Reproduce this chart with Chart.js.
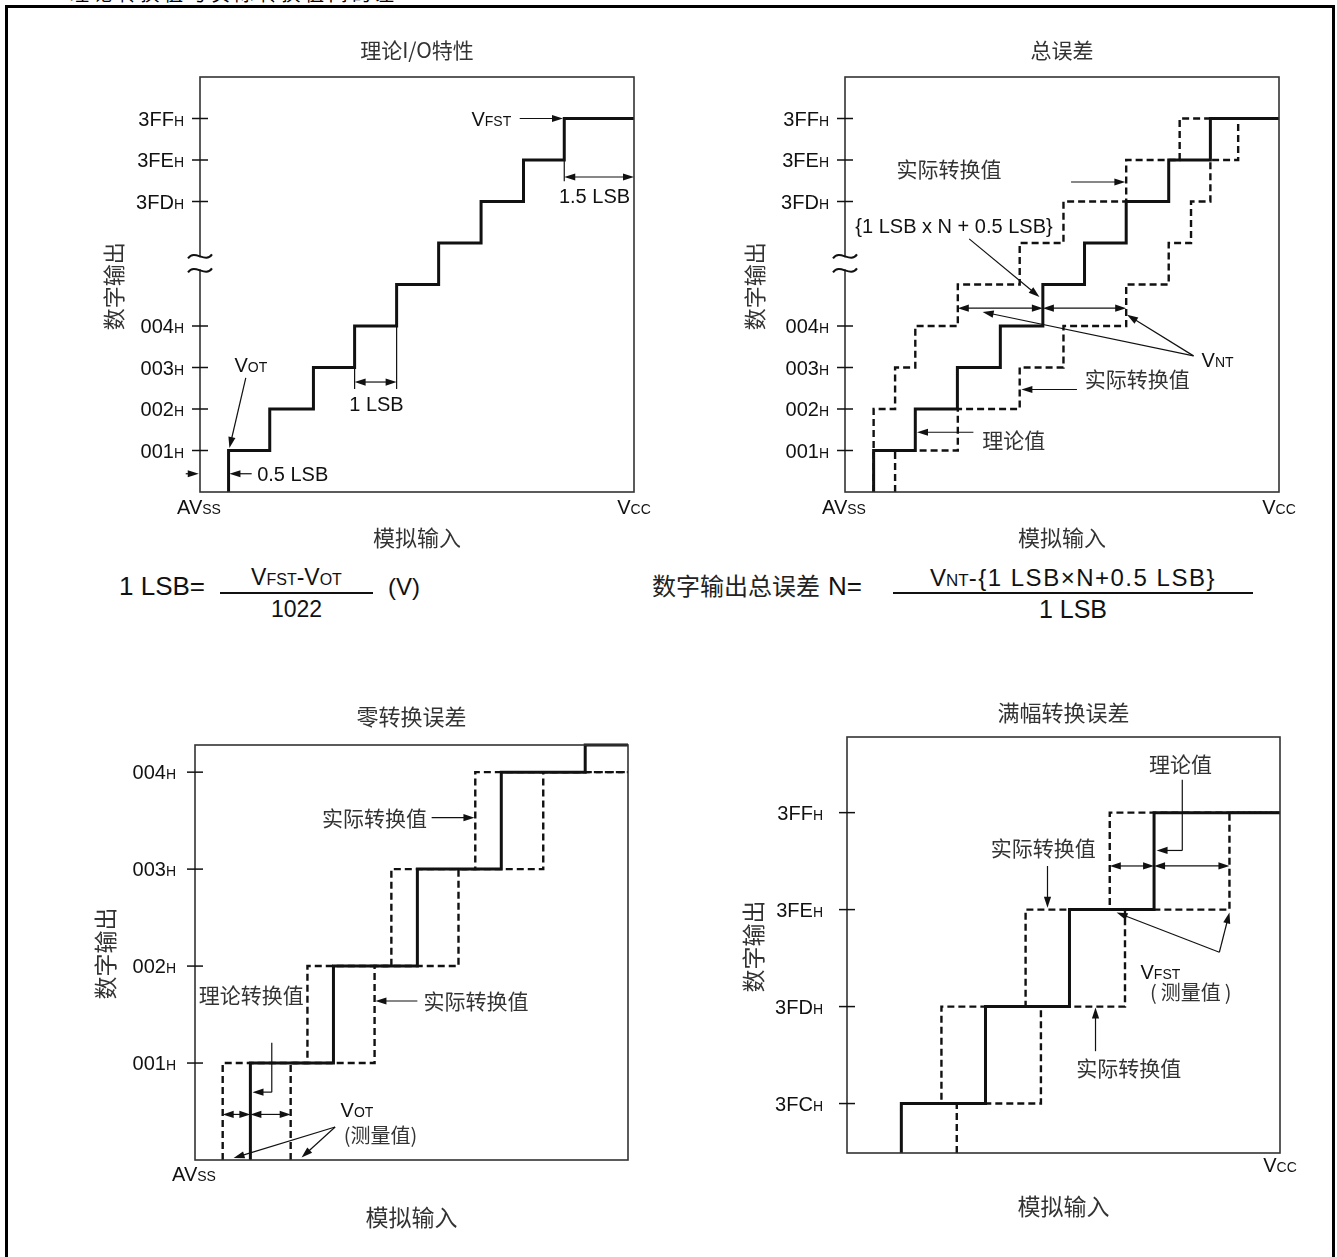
<!DOCTYPE html>
<html><head><meta charset="utf-8">
<script src="https://cdn.jsdelivr.net/npm/chart.js@4.4.0/dist/chart.umd.min.js"></script>
<style>
html,body{margin:0;padding:0;background:#fff;}
body{width:1337px;height:1257px;overflow:hidden;position:relative;}
#frame{position:absolute;left:5px;top:5px;width:1330px;height:1300px;border:3px solid #000;box-sizing:border-box;}
canvas{position:absolute;}
.t{position:absolute;white-space:nowrap;font-family:"Liberation Sans",Arial,sans-serif;color:#111;line-height:1;}
.cjk{font-family:"Noto Sans CJK SC","Noto Sans CJK JP",sans-serif;color:#333;}
.bar{position:absolute;height:2px;background:#111;}
</style></head><body>
<div class="t cjk" style="left:70px;top:-17px;font-size:19px;letter-spacing:4.5px;color:#000">理论转换值与实际转换值间的差</div>
<div id="frame"></div>

<canvas id="cA" width="570" height="530" style="left:90px;top:30px;width:570px;height:530px"></canvas>
<canvas id="cB" width="570" height="530" style="left:735px;top:30px;width:570px;height:530px"></canvas>
<canvas id="cC" width="570" height="545" style="left:85px;top:695px;width:570px;height:545px"></canvas>
<canvas id="cD" width="570" height="550" style="left:737px;top:687px;width:570px;height:550px"></canvas>

<!-- formulas -->
<div class="t" style="left:119px;top:573px;font-size:26px">1 LSB=</div>
<div class="t" style="left:220px;width:153px;text-align:center;top:566px;font-size:23px">V<span style="font-size:16px">FST</span>-V<span style="font-size:16px">OT</span></div>
<div class="bar" style="left:220px;top:592px;width:153px"></div>
<div class="t" style="left:220px;width:153px;text-align:center;top:598px;font-size:23px">1022</div>
<div class="t" style="left:388px;top:575px;font-size:24px">(V)</div>

<div class="t cjk" style="left:652px;top:573px;font-size:24px;line-height:24px;color:#222">数字输出总误差</div>
<div class="t" style="left:828px;top:573px;font-size:26px">N=</div>
<div class="t" style="left:893px;width:360px;text-align:center;top:566px;font-size:24px">V<span style="font-size:17px">NT</span><span style="letter-spacing:1.5px">-{1 LSB×N+0.5 LSB}</span></div>
<div class="bar" style="left:893px;top:592px;width:360px"></div>
<div class="t" style="left:893px;width:360px;text-align:center;top:597px;font-size:25px">1 LSB</div>

<script>
// ================= DATA =================
// Panel A: 理论I/O特性 (x in LSB units from AVss, y in output-code steps)
const aTickLevels = [1, 2, 3, 4, 7, 8, 9];
const aTickLabels = ['001', '002', '003', '004', '3FD', '3FE', '3FF'];
const aIdealStepX = [0.68, 1.66, 2.70, 3.68, 4.68, 5.68, 6.69, 7.70, 8.67];
const aStepLevel = [1, 2, 3, 4, 5, 6, 7, 8, 9];
const aXMax = 10.33;
const aYMax = 10;

// Panel B: 总误差
const bTickLevels = [1, 2, 3, 4, 7, 8, 9];
const bTickLabels = ['001', '002', '003', '004', '3FD', '3FE', '3FF'];
const bIdealStepX = [0.68, 1.67, 2.67, 3.69, 4.70, 5.69, 6.68, 7.69, 8.68];
const bEarlyStepX = [0.68, 0.68, 1.19, 1.67, 2.68, 4.15, 5.19, 6.68, 7.95];
const bLateStepX  = [1.19, 2.68, 4.15, 5.19, 6.68, 7.69, 8.22, 8.68, 9.34];
const bStepLevel = [1, 2, 3, 4, 5, 6, 7, 8, 9];
const bXMax = 10.31;
const bYMax = 10;

// Panel C: 零转换误差
const cTickLevels = [1, 2, 3, 4];
const cTickLabels = ['001', '002', '003', '004'];
const cIdealStepX = [0.66, 1.65, 2.65, 3.65, 4.65];
const cIdealStepLevel = [1, 2, 3, 4, 4.28];
const cEarlyStepX = [0.33, 1.34, 2.34, 3.34];
const cLateStepX  = [1.14, 2.14, 3.14, 4.15];
const cActualStepLevel = [1, 2, 3, 4];
const cXMax = 5.16;
const cYMax = 4.28;

// Panel D: 满幅转换误差 (3FC = 0)
const dTickLevels = [0, 1, 2, 3];
const dTickLabels = ['3FC', '3FD', '3FE', '3FF'];
const dIdealStepX = [0.645, 1.644, 2.641, 3.645];
const dEarlyStepX = [0.645, 1.121, 2.12, 3.119];
const dLateStepX  = [1.303, 2.302, 3.30, 4.54];
const dStepLevel = [0, 1, 2, 3];
const dXMax = 5.14;
const dYMin = -0.51;
const dYMax = 3.78;

// ================= HELPERS =================
const LATIN = '"Liberation Sans", Arial, sans-serif';
const CJK = '"Noto Sans CJK SC", "Noto Sans CJK JP", sans-serif';
const INK = '#111';

function stairs(startLevel, stepX, stepLevel, xEnd) {
  const pts = [{x: stepX[0], y: startLevel}];
  stepX.forEach((x, i) => pts.push({x: x, y: stepLevel[i]}));
  pts.push({x: xEnd, y: stepLevel[stepLevel.length - 1]});
  return pts;
}

function tools(chart) {
  const ctx = chart.ctx, a = chart.chartArea;
  const X = v => chart.scales.x.getPixelForValue(v);
  const Y = v => chart.scales.y.getPixelForValue(v);
  const T = {ctx, a, X, Y};
  T.seg = (x1, y1, x2, y2, w = 1.2) => {
    ctx.save(); ctx.strokeStyle = INK; ctx.lineWidth = w;
    ctx.beginPath(); ctx.moveTo(x1, y1); ctx.lineTo(x2, y2); ctx.stroke(); ctx.restore();
  };
  const L = 11, W = 3.6;
  const head = (px, py, fx, fy) => {
    const g = Math.atan2(py - fy, px - fx), c = Math.cos(g), s = Math.sin(g);
    ctx.beginPath(); ctx.moveTo(px, py);
    ctx.lineTo(px - L * c + W * s, py - L * s - W * c);
    ctx.lineTo(px - L * c - W * s, py - L * s + W * c);
    ctx.closePath(); ctx.fill();
  };
  T.arrow = (x1, y1, x2, y2, both) => {
    const d = Math.hypot(x2 - x1, y2 - y1), ux = (x2 - x1) / d, uy = (y2 - y1) / d;
    const sx = both ? x1 + ux * (L - 2) : x1, sy = both ? y1 + uy * (L - 2) : y1;
    ctx.save(); ctx.strokeStyle = INK; ctx.fillStyle = INK; ctx.lineWidth = 1.2;
    ctx.beginPath(); ctx.moveTo(sx, sy); ctx.lineTo(x2 - ux * (L - 2), y2 - uy * (L - 2)); ctx.stroke();
    head(x2, y2, x1, y1);
    if (both) head(x1, y1, x2, y2);
    ctx.restore();
  };
  T.sub = (parts, px, py, align = 'center') => {
    ctx.save(); ctx.fillStyle = INK; ctx.textBaseline = 'alphabetic'; ctx.textAlign = 'left';
    let w = 0;
    parts.forEach(([s, z]) => { ctx.font = z + 'px ' + LATIN; w += ctx.measureText(s).width; });
    let x = align === 'center' ? px - w / 2 : (align === 'right' ? px - w : px);
    const base = py + 0.716 * parts[0][1] / 2;
    parts.forEach(([s, z]) => { ctx.font = z + 'px ' + LATIN; ctx.fillText(s, x, base); x += ctx.measureText(s).width; });
    ctx.restore();
  };
  T.cjk = (s, px, py, size = 21, align = 'center') => {
    ctx.save(); ctx.font = size + 'px ' + CJK; ctx.fillStyle = '#333';
    ctx.textAlign = align; ctx.textBaseline = 'middle'; ctx.fillText(s, px, py); ctx.restore();
  };
  T.paren = (s, px, py, gap, size = 21) => {
    ctx.save(); ctx.font = size + 'px ' + CJK; ctx.fillStyle = '#333'; ctx.textBaseline = 'middle';
    const w = ctx.measureText(s).width;
    ctx.textAlign = 'center'; ctx.fillText(s, px, py);
    ctx.textAlign = 'right'; ctx.fillText('(', px - w / 2 - gap, py);
    ctx.textAlign = 'left'; ctx.fillText(')', px + w / 2 + gap, py);
    ctx.restore();
  };
  T.ytitle = (s, px, py, size = 22) => {
    ctx.save(); ctx.translate(px, py); ctx.rotate(-Math.PI / 2); T.cjk(s, 0, 0, size); ctx.restore();
  };
  T.box = () => {
    ctx.save(); ctx.strokeStyle = '#333'; ctx.lineWidth = 1.6;
    ctx.strokeRect(a.left, a.top, a.right - a.left, a.bottom - a.top); ctx.restore();
  };
  T.ticks = (levels, labels, gap) => {
    levels.forEach((lv, i) => {
      const y = Y(lv);
      T.seg(a.left - 8, y, a.left + 8, y, 1.5);
      T.sub([[labels[i], 20], ['H', 14]], a.left - gap, y, 'right');
    });
  };
  T.brk = lv => {
    const x = a.left, y = Y(lv);
    ctx.save(); ctx.fillStyle = '#fff'; ctx.fillRect(x - 3, y - 6, 6, 12);
    ctx.strokeStyle = INK; ctx.lineWidth = 2;
    [-7, 7].forEach(d => {
      ctx.beginPath(); ctx.moveTo(x - 12, y + d + 2);
      ctx.bezierCurveTo(x - 5, y + d - 8, x + 5, y + d + 8, x + 12, y + d - 2); ctx.stroke();
    });
    ctx.restore();
  };
  T.avss = dy => T.sub([['AV', 20], ['SS', 14]], a.left - 1, a.bottom + dy, 'center');
  T.vcc = dy => T.sub([['V', 20], ['CC', 14]], a.right, a.bottom + dy, 'center');
  T.cx = (a.left + a.right) / 2;
  return T;
}

function makeChart(id, cfg) {
  const cv = document.getElementById(id);
  return new Chart(cv, {
    type: 'scatter',
    data: {
      datasets: cfg.series.map(s => ({
        data: s.points, showLine: true, stepped: true,
        borderColor: INK, borderWidth: s.dashed ? 2.4 : 3,
        borderDash: s.dashed ? [7, 4] : [],
        borderCapStyle: 'butt', borderJoinStyle: 'miter',
        pointRadius: 0, pointHoverRadius: 0, fill: false, clip: 4
      }))
    },
    options: {
      responsive: false, animation: false, devicePixelRatio: 1, events: [],
      layout: {padding: cfg.padding},
      scales: {
        x: {type: 'linear', display: false, min: 0, max: cfg.xMax},
        y: {type: 'linear', display: false, min: cfg.yMin, max: cfg.yMax}
      },
      plugins: {legend: {display: false}, tooltip: {enabled: false}, title: {display: false}}
    },
    plugins: [{id: 'anno' + id, afterDraw: c => cfg.draw(tools(c))}]
  });
}

// ================= PANEL A =================
makeChart('cA', {
  padding: {left: 110, top: 47, right: 26, bottom: 68},
  xMax: aXMax, yMin: 0, yMax: aYMax,
  series: [{points: stairs(0, aIdealStepX, aStepLevel, aXMax)}],
  draw: T => {
    const {X, Y, a} = T;
    T.box();
    T.ticks(aTickLevels, aTickLabels, 16);
    T.brk(5.51);
    T.avss(15); T.vcc(15);
    T.cjk('理论I/O特性', T.cx, a.top - 27, 21);
    T.cjk('模拟输入', T.cx, a.bottom + 46, 22);
    T.ytitle('数字输出', a.left - 86, Y(4.96));
    // VFST
    T.sub([['V', 20], ['FST', 14]], X(6.46), Y(9), 'left');
    T.arrow(X(7.61), Y(9), X(8.64), Y(9));
    // 1.5 LSB
    T.seg(X(8.67), Y(8), X(8.67), Y(7.49));
    T.arrow(X(8.67), Y(7.59), X(aXMax), Y(7.59), true);
    T.sub([['1.5 LSB', 20]], X(9.39), Y(7.13));
    // 1 LSB
    T.seg(X(3.68), Y(3), X(3.68), Y(2.48));
    T.seg(X(4.68), Y(4), X(4.68), Y(2.48));
    T.arrow(X(3.68), Y(2.65), X(4.68), Y(2.65), true);
    T.sub([['1 LSB', 20]], X(4.2), Y(2.12));
    // VOT
    T.sub([['V', 20], ['OT', 14]], X(1.21), Y(3.06));
    T.arrow(X(1.09), Y(2.75), X(0.70), Y(1.06));
    // 0.5 LSB
    T.arrow(X(-0.34), Y(0.44), X(-0.03), Y(0.44));
    T.arrow(X(1.23), Y(0.44), X(0.70), Y(0.44));
    T.sub([['0.5 LSB', 20]], X(1.36), Y(0.44), 'left');
  }
});

// ================= PANEL B =================
makeChart('cB', {
  padding: {left: 110, top: 47, right: 26, bottom: 68},
  xMax: bXMax, yMin: 0, yMax: bYMax,
  series: [
    {points: stairs(0, bIdealStepX, bStepLevel, bXMax)},
    {points: stairs(0, bEarlyStepX, bStepLevel, bXMax), dashed: true},
    {points: stairs(0, bLateStepX, bStepLevel, bXMax), dashed: true}
  ],
  draw: T => {
    const {X, Y, a} = T;
    T.box();
    T.ticks(bTickLevels, bTickLabels, 16);
    T.brk(5.51);
    T.avss(15); T.vcc(15);
    T.cjk('总误差', T.cx, a.top - 27, 21);
    T.cjk('模拟输入', T.cx, a.bottom + 46, 22);
    T.ytitle('数字输出', a.left - 90, Y(4.96));
    T.cjk('实际转换值', X(2.47), Y(7.78));
    T.arrow(X(5.37), Y(7.47), X(6.66), Y(7.47));
    T.sub([['{1 LSB x N + 0.5 LSB}', 20]], X(2.59), Y(6.41));
    T.arrow(X(2.95), Y(6.10), X(4.62), Y(4.70));
    T.arrow(X(2.68), Y(4.43), X(4.70), Y(4.43), true);
    T.arrow(X(4.70), Y(4.43), X(6.68), Y(4.43), true);
    T.sub([['V', 20], ['NT', 14]], X(8.85), Y(3.18));
    T.arrow(X(8.28), Y(3.28), X(3.27), Y(4.34));
    T.arrow(X(8.28), Y(3.28), X(6.70), Y(4.27));
    T.cjk('实际转换值', X(6.94), Y(2.73));
    T.arrow(X(5.51), Y(2.47), X(4.19), Y(2.47));
    T.cjk('理论值', X(4.01), Y(1.26));
    T.arrow(X(3.05), Y(1.44), X(1.71), Y(1.44));
  }
});

// ================= PANEL C =================
makeChart('cC', {
  padding: {left: 110, top: 50, right: 27, bottom: 80},
  xMax: cXMax, yMin: 0, yMax: cYMax,
  series: [
    {points: stairs(0, cIdealStepX, cIdealStepLevel, cXMax)},
    {points: stairs(0, cEarlyStepX, cActualStepLevel, cXMax), dashed: true},
    {points: stairs(0, cLateStepX, cActualStepLevel, cXMax), dashed: true}
  ],
  draw: T => {
    const {X, Y, a} = T;
    T.box();
    T.ticks(cTickLevels, cTickLabels, 19);
    T.avss(14);
    T.cjk('零转换误差', T.cx, a.top - 28, 22);
    T.cjk('模拟输入', T.cx, a.bottom + 57, 23);
    T.ytitle('数字输出', a.left - 90, Y(2.13), 23);
    T.cjk('实际转换值', X(2.14), Y(3.53));
    T.arrow(X(2.82), Y(3.53), X(3.33), Y(3.53));
    T.cjk('理论转换值', X(0.67), Y(1.70));
    T.seg(X(0.915), Y(1.21), X(0.915), Y(0.70));
    T.arrow(X(0.915), Y(0.70), X(0.685), Y(0.70));
    T.arrow(X(2.65), Y(1.64), X(2.15), Y(1.64));
    T.cjk('实际转换值', X(3.35), Y(1.64));
    T.arrow(X(0.33), Y(0.47), X(0.66), Y(0.47), true);
    T.arrow(X(0.66), Y(0.47), X(1.14), Y(0.47), true);
    T.sub([['V', 20], ['OT', 14]], X(1.93), Y(0.52));
    T.paren('测量值', X(2.21), Y(0.25), 0, 20);
    T.arrow(X(1.67), Y(0.34), X(0.46), Y(0.02));
    T.arrow(X(1.67), Y(0.34), X(1.27), Y(0.025));
  }
});

// ================= PANEL D =================
makeChart('cD', {
  padding: {left: 110, top: 50, right: 27, bottom: 84},
  xMax: dXMax, yMin: dYMin, yMax: dYMax,
  series: [
    {points: stairs(dYMin, dIdealStepX, dStepLevel, dXMax)},
    {points: stairs(0, dEarlyStepX, dStepLevel, dXMax), dashed: true},
    {points: stairs(dYMin, dLateStepX, dStepLevel, dXMax), dashed: true}
  ],
  draw: T => {
    const {X, Y, a} = T;
    T.box();
    T.ticks(dTickLevels, dTickLabels, 24);
    T.vcc(12);
    T.cjk('满幅转换误差', T.cx, a.top - 24, 22);
    T.cjk('模拟输入', T.cx, a.bottom + 53, 23);
    T.ytitle('数字输出', a.left - 94, Y(1.62), 23);
    T.cjk('理论值', X(3.96), Y(3.50));
    T.seg(X(3.98), Y(3.34), X(3.98), Y(2.61));
    T.arrow(X(3.98), Y(2.61), X(3.675), Y(2.61));
    T.cjk('实际转换值', X(2.33), Y(2.64));
    T.arrow(X(2.38), Y(2.45), X(2.38), Y(2.02));
    T.arrow(X(3.12), Y(2.45), X(3.645), Y(2.45), true);
    T.arrow(X(3.645), Y(2.45), X(4.54), Y(2.45), true);
    T.sub([['V', 20], ['FST', 14]], X(3.72), Y(1.36));
    T.paren('测量值', X(4.08), Y(1.149), 4, 20);
    T.arrow(X(4.42), Y(1.56), X(3.20), Y(1.97));
    T.arrow(X(4.42), Y(1.56), X(4.54), Y(1.97));
    T.cjk('实际转换值', X(3.345), Y(0.365));
    T.arrow(X(2.95), Y(0.54), X(2.95), Y(0.99));
  }
});
</script>
</body></html>
